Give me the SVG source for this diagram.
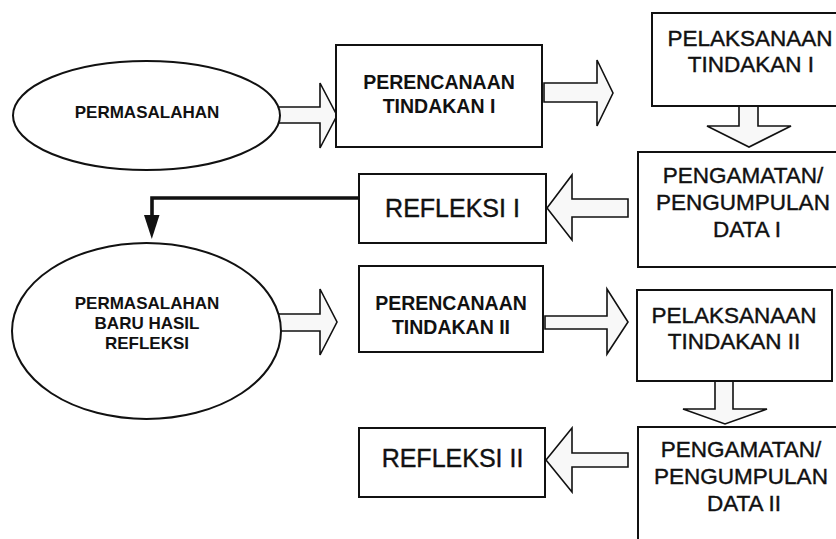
<svg xmlns="http://www.w3.org/2000/svg" width="836" height="539" viewBox="0 0 836 539">
<defs>
<style>
.box{fill:#fff;stroke:#111;stroke-width:2}
.ell{fill:#fff;stroke:#111;stroke-width:2}
.blk{fill:#f8f8f8;stroke:#111;stroke-width:1.6;stroke-linejoin:miter}
.t{font-family:"Liberation Sans",Arial,sans-serif;fill:#111;text-anchor:middle}
.tb{font-weight:bold}
.big{font-size:22.5px;stroke:#111;stroke-width:0.4}
.mid{font-size:19.5px}
.sm{font-size:17px}
.ref{font-size:25px;stroke:#111;stroke-width:0.4}
</style>
</defs>
<rect width="836" height="539" fill="#fff"/>

<g id="connectors">
<path class="blk" d="M279,107 L320,107 L320,83 L337,115.5 L320,148 L320,123 L279,123"/>
<path class="blk" d="M544,83 L597,83 L597,60 L613,93 L597,126 L597,102 L544,102 Z"/>
<path class="blk" d="M739,106 L739,126 L707,126 L749,147 L791,126 L758,126 L758,106"/>
<path class="blk" d="M628,199 L572,199 L572,175 L547,208 L572,240 L572,217 L628,217 Z"/>
<path d="M361,198 L152,198 L152,217" fill="none" stroke="#111" stroke-width="3.6"/>
<path d="M144,215 L159.5,215 L151.8,239 Z" fill="#111"/>
<path class="blk" d="M279,314 L320,314 L320,289 L337,322 L320,355 L320,331 L279,331"/>
<path class="blk" d="M545,316 L607,316 L607,289 L628,322 L607,354 L607,329 L545,329 Z"/>
<path class="blk" d="M715,381 L715,409 L683,409 L725,424 L767,409 L733,409 L733,381"/>
<path class="blk" d="M628,453 L572,453 L572,428 L546,460 L572,492 L572,467 L628,467 Z"/>
</g>

<g id="permasalahan">
<ellipse class="ell" cx="146.5" cy="115.5" rx="133.5" ry="54.5"/>
<text class="t tb sm" x="147" y="118">PERMASALAHAN</text>
</g>

<g id="perencanaan1">
<rect class="box" x="336" y="45" width="206" height="102"/>
<text class="t tb mid" x="439" y="89">PERENCANAAN</text>
<text class="t tb mid" x="439" y="113">TINDAKAN I</text>
</g>

<g id="pelaksanaan1">
<rect class="box" x="652" y="13" width="200" height="93"/>
<text class="t big" x="750" y="46">PELAKSANAAN</text>
<text class="t big" x="751" y="72">TINDAKAN I</text>
</g>

<g id="pengamatan1">
<rect class="box" x="638" y="152" width="220" height="115"/>
<text class="t big" x="743" y="183">PENGAMATAN/</text>
<text class="t big" x="743" y="210">PENGUMPULAN</text>
<text class="t big" x="747" y="237">DATA I</text>
</g>

<g id="refleksi1">
<rect class="box" x="359" y="174" width="187" height="69"/>
<text class="t ref" x="452.5" y="217">REFLEKSI I</text>
</g>

<g id="permasalahan2">
<ellipse class="ell" cx="146.5" cy="331" rx="134.5" ry="88"/>
<text class="t tb sm" x="147" y="309">PERMASALAHAN</text>
<text class="t tb sm" x="147" y="329">BARU HASIL</text>
<text class="t tb sm" x="147" y="349">REFLEKSI</text>
</g>

<g id="perencanaan2">
<rect class="box" x="359" y="266" width="184" height="86"/>
<text class="t tb mid" x="451" y="310">PERENCANAAN</text>
<text class="t tb mid" x="451" y="334">TINDAKAN II</text>
</g>

<g id="pelaksanaan2">
<rect class="box" x="637" y="290" width="195" height="91"/>
<text class="t big" x="734" y="323">PELAKSANAAN</text>
<text class="t big" x="734" y="349">TINDAKAN II</text>
</g>

<g id="pengamatan2">
<rect class="box" x="638" y="427" width="220" height="130"/>
<text class="t big" x="741" y="457">PENGAMATAN/</text>
<text class="t big" x="741" y="484">PENGUMPULAN</text>
<text class="t big" x="744" y="511">DATA II</text>
</g>

<g id="refleksi2">
<rect class="box" x="359" y="428" width="186" height="69"/>
<text class="t ref" x="452.5" y="467">REFLEKSI II</text>
</g>
</svg>
